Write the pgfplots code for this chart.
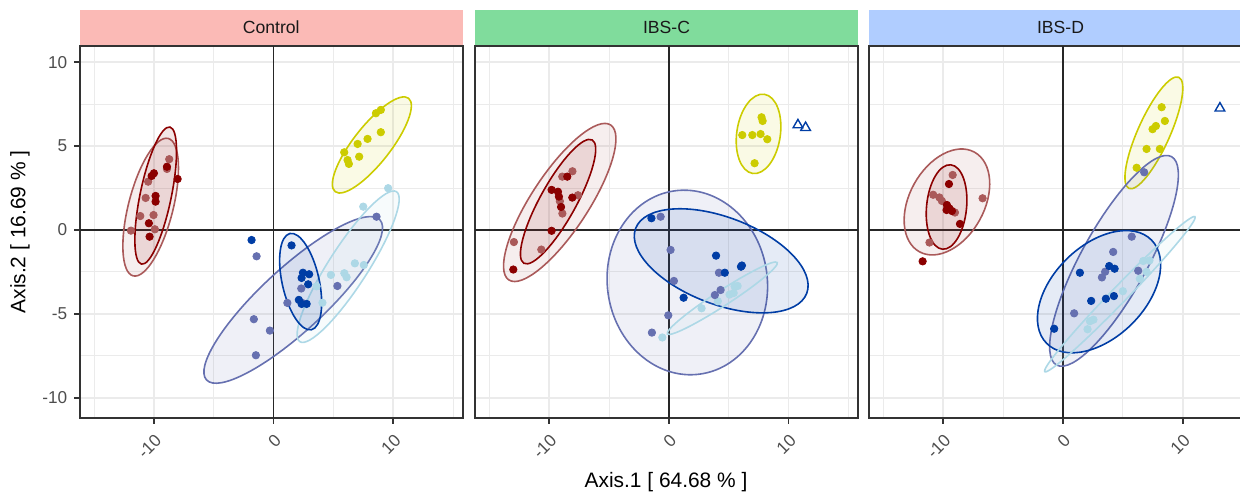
\documentclass[border=0pt]{standalone}
\usepackage{fontspec}
\setmainfont{Liberation Sans}
\usepackage{pgfplots}
\pgfplotsset{compat=1.18}

\definecolor{drc}{HTML}{8B0000}
\definecolor{lrc}{HTML}{AA5A5A}
\definecolor{yc}{HTML}{CCCC00}
\definecolor{dbc}{HTML}{003DA5}
\definecolor{pwc}{HTML}{6670B0}
\definecolor{lbc}{HTML}{ADD8E6}
\definecolor{gridc}{HTML}{EBEBEB}
\definecolor{borderc}{HTML}{333333}
\definecolor{tickc}{HTML}{4D4D4D}
\definecolor{stripA}{HTML}{FBBAB6}
\definecolor{stripB}{HTML}{80DC9C}
\definecolor{stripC}{HTML}{B0CDFF}

% ellipse: colour, cx, cy, semi-axes (pt), angle
\newcommand{\ellip}[6]{\draw[#1, line width=0.8pt, fill=#1, fill opacity=0.1,
  rotate around={#6:(axis cs:#2,#3)}] (axis cs:#2,#3) ellipse [x radius=#4pt, y radius=#5pt];}

\tikzset{zero/.style={black!85, line width=0.7pt}}

\pgfplotsset{
  facet/.style={
    width=191.5pt, height=186.15pt, scale only axis,
    anchor=south west,
    xmin=-16.2, xmax=15.8, ymin=-11.23, ymax=10.97,
    xtick={-10,0,10}, ytick={-10,-5,0,5,10},
    minor xtick={-15,-5,5,15}, minor ytick={-7.5,-2.5,2.5,7.5},
    grid=both,
    major grid style={color=gridc, line width=0.9pt},
    minor grid style={color=gridc, line width=0.5pt},
    axis line style={color=borderc, line width=0.9pt},
    tick align=outside, tick pos=left,
    major tick length=2.7pt, minor tick length=0pt,
    tick style={color=borderc, line width=0.9pt},
    ticklabel style={font=\fontsize{8.6}{10}\selectfont, text=tickc},
    xticklabel style={rotate=45, anchor=north east},
    /pgf/number format/assume math mode=true,
  },
  pt/.style={only marks, mark=*, mark size=1.85pt},
}

\begin{document}
\begin{tikzpicture}

% ---------------- Control
\begin{axis}[facet, name=p1, at={(39.85pt,37.35pt)}]
\draw[zero] (axis cs:0,-11.23) -- (axis cs:0,10.97);
\draw[zero] (axis cs:-16.2,0) -- (axis cs:15.8,0);
\ellip{lrc}{-10.27}{1.36}{35.45}{11.15}{75.7}
\ellip{drc}{-9.85}{2.05}{35}{7.8}{78.3}
\ellip{yc}{8.21}{5.07}{29.7}{9.25}{51.8}
\ellip{pwc}{1.64}{-4.17}{59}{15.8}{42.7}
\ellip{lbc}{6.23}{-2.19}{44.6}{9.75}{57.2}
\ellip{dbc}{2.26}{-3.08}{24.65}{9.25}{102.6}
\addplot[pt, lrc] coordinates {(-8.72,4.22) (-8.91,3.64) (-10.48,2.88) (-10.69,1.91) (-10.03,0.89) (-11.14,0.83) (-9.92,0.04) (-11.92,-0.04)};
\addplot[pt, drc] coordinates {(-8.91,3.77) (-8.02,3.04) (-10.00,3.38) (-10.19,3.22) (-9.86,2.03) (-9.86,1.69) (-10.42,0.40) (-10.36,-0.40)};
\addplot[pt, yc] coordinates {(8.96,7.16) (8.55,6.96) (8.96,5.83) (7.85,5.43) (7.02,5.13) (5.90,4.63) (7.15,4.37) (6.18,4.17) (6.29,3.94)};
\addplot[pt, lbc] coordinates {(9.57,2.49) (7.49,1.39) (6.79,-1.99) (7.54,-2.09) (4.79,-2.68) (5.91,-2.58) (6.10,-2.82) (3.59,-3.36) (4.08,-4.34)};
\addplot[pt, pwc] coordinates {(-1.42,-1.57) (-1.65,-5.32) (-0.31,-6.00) (-1.48,-7.47) (2.31,-3.49) (1.15,-4.35) (2.36,-4.34) (5.33,-3.34) (8.60,0.79)};
\addplot[pt, dbc] coordinates {(-1.84,-0.60) (1.50,-0.92) (2.45,-2.55) (2.97,-2.64) (2.34,-2.86) (2.89,-3.24) (2.11,-4.17) (2.34,-4.41) (2.76,-4.41)};
\end{axis}

% ---------------- IBS-C
\begin{axis}[facet, name=p2, at={(237.5pt,37.35pt)}, ymajorticks=false, yminorticks=false]
\draw[zero] (axis cs:0,-11.23) -- (axis cs:0,10.97);
\draw[zero] (axis cs:-16.2,0) -- (axis cs:15.8,0);
\ellip{lrc}{-9.12}{1.64}{46.35}{14.25}{56.7}
\ellip{drc}{-9.26}{1.69}{35.25}{9}{61}
\ellip{yc}{7.49}{5.73}{20}{10.9}{81.7}
\ellip{pwc}{1.54}{-3.13}{46.25}{40}{98}
\ellip{dbc}{4.37}{-1.84}{45.75}{21.75}{-20.8}
\ellip{lbc}{4.46}{-4.07}{32.75}{3.8}{33}
\addplot[pt, lrc] coordinates {(-8.06,3.50) (-8.91,3.18) (-9.11,1.71) (-7.60,2.07) (-8.90,0.98) (-10.66,-1.17) (-12.95,-0.72)};
\addplot[pt, drc] coordinates {(-8.49,3.18) (-9.80,2.39) (-9.27,2.28) (-9.19,1.99) (-8.07,1.93) (-9.01,1.37) (-9.80,-0.05) (-13.0,-2.36)};
\addplot[pt, yc] coordinates {(7.74,6.72) (7.83,6.50) (6.13,5.66) (6.97,5.66) (7.66,5.72) (8.22,5.41) (7.16,3.98)};
\addplot[pt, lbc] coordinates {(-0.55,-6.41) (2.73,-4.67) (4.09,-4.25) (5.07,-3.85) (5.41,-3.76) (5.49,-3.36) (5.74,-3.34)};
\addplot[pt, pwc] coordinates {(-0.69,0.79) (0.14,-1.19) (0.42,-3.04) (4.18,-2.55) (4.32,-3.58) (3.84,-3.88) (-0.05,-5.09) (-1.42,-6.12)};
\addplot[pt, dbc] coordinates {(-1.46,0.70) (3.94,-1.53) (4.67,-2.55) (6.02,-2.19) (6.10,-2.12) (1.23,-4.04)};
\addplot[only marks, mark=triangle, mark size=2.8pt, dbc, mark options={line width=0.7pt}] coordinates {(10.78,6.26) (11.42,6.10)};
\end{axis}

% ---------------- IBS-D
\begin{axis}[facet, name=p3, at={(434.5pt,37.35pt)}, ymajorticks=false, yminorticks=false]
\draw[zero] (axis cs:0,-11.23) -- (axis cs:0,10.97);
\draw[zero] (axis cs:-16.2,0) -- (axis cs:15.8,0);
\ellip{lrc}{-9.69}{1.67}{28.45}{18.7}{61}
\ellip{drc}{-9.72}{1.37}{21.2}{10}{84.3}
\ellip{yc}{7.60}{5.79}{30.45}{8}{65.8}
\ellip{pwc}{4.27}{-1.84}{59.5}{16.5}{61.1}
\ellip{dbc}{3.02}{-3.68}{36.8}{23}{44.5}
\ellip{lbc}{4.76}{-3.83}{53.95}{4}{45.9}
\addplot[pt, lrc] coordinates {(-9.21,3.28) (-10.84,2.10) (-10.32,1.94) (-10.11,1.73) (-9.02,1.04) (-6.71,1.89) (-11.15,-0.75)};
\addplot[pt, drc] coordinates {(-9.52,2.74) (-9.72,1.19) (-9.48,1.28) (-9.27,1.13) (-8.60,0.36) (-11.72,-1.87) (-9.69,1.49)};
\addplot[pt, yc] coordinates {(8.25,7.32) (8.52,6.50) (7.77,6.20) (7.49,6.01) (6.99,4.83) (8.10,4.83) (6.16,3.71)};
\addplot[pt, lbc] coordinates {(6.71,-1.85) (7.23,-1.82) (6.99,-2.50) (6.43,-2.91) (5.01,-3.65) (2.55,-5.35) (2.26,-5.44) (2.06,-5.92)};
\addplot[pt, pwc] coordinates {(6.79,3.44) (5.75,-0.40) (4.20,-1.31) (3.53,-2.49) (3.26,-2.83) (6.29,-2.43) (0.94,-4.97)};
\addplot[pt, dbc] coordinates {(1.42,-2.55) (3.87,-2.15) (4.32,-2.31) (2.36,-4.23) (3.59,-4.10) (4.26,-3.94) (-0.73,-5.89)};
\addplot[only marks, mark=triangle, mark size=2.8pt, dbc, mark options={line width=0.7pt}] coordinates {(13.12,7.26)};
\end{axis}

% strips
\foreach \p/\c/\t in {p1/stripA/Control, p2/stripB/IBS-C, p3/stripC/IBS-D} {
  \fill[\c] ([yshift=0.5pt]\p.north west) rectangle ([yshift=18pt]\p.north east);
  \node[font=\fontsize{8.8}{10}\selectfont, text=black!90] at ([yshift=9.2pt]\p.north) {\t};
}

\node[font=\fontsize{10.45}{12}\selectfont] at (333pt,5.5pt) {Axis.1 [ 64.68 \% ]};
\node[font=\fontsize{10.45}{12}\selectfont, rotate=90] at (10pt,130.5pt) {Axis.2 [ 16.69 \% ]};

\pgfresetboundingbox
\path[use as bounding box] (0pt,0pt) rectangle (620pt,246.5pt);
\end{tikzpicture}
\end{document}
